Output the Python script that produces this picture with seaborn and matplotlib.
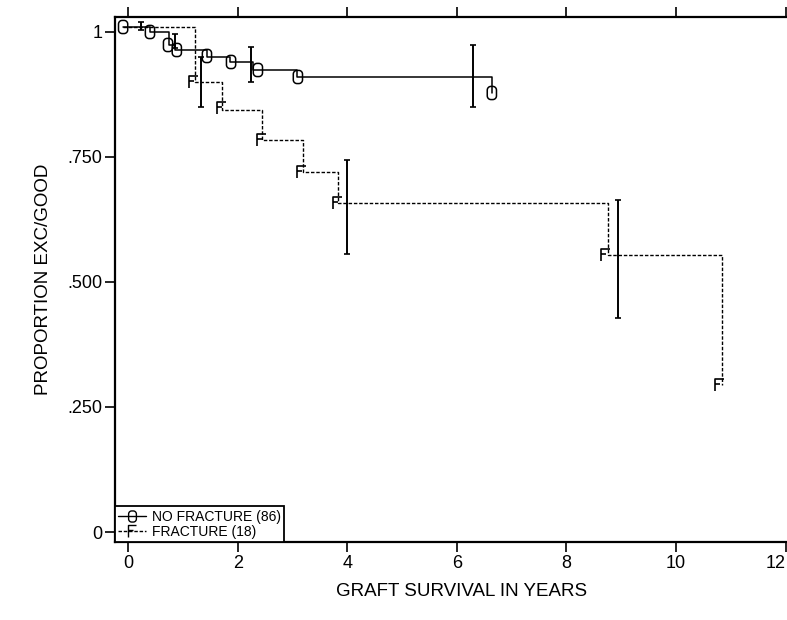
import numpy as np
import pandas as pd
import seaborn as sns
import matplotlib
matplotlib.use("Agg")
import matplotlib.pyplot as plt
from matplotlib.path import Path
from matplotlib.lines import Line2D

# 생존 곡선 데이터
nofx_t = [-0.09, 0.40, 0.75, 0.86, 1.44, 1.86, 2.28, 3.08, 6.64]
nofx_s = [1.01, 1.00, 0.974, 0.964, 0.950, 0.940, 0.924, 0.910, 0.878]
nofx_mark_t = [-0.09, 0.40, 0.73, 0.89, 1.44, 1.88, 2.37, 3.10, 6.64]
nofx_mark_s = [1.01, 1.00, 0.974, 0.964, 0.952, 0.940, 0.924, 0.910, 0.878]
nofx_err_t = [0.24, 0.86, 2.24, 6.30]
nofx_err_lo = [1.004, 0.968, 0.900, 0.850]
nofx_err_hi = [1.020, 0.996, 0.970, 0.974]

fx_t = [-0.09, 1.22, 1.72, 2.45, 3.19, 3.83, 8.76, 10.84]
fx_s = [1.01, 0.900, 0.844, 0.784, 0.720, 0.658, 0.554, 0.294]
fx_mark_t = [1.20, 1.70, 2.43, 3.16, 3.82, 8.72, 10.80]
fx_mark_s = [0.900, 0.848, 0.784, 0.720, 0.658, 0.554, 0.294]
fx_err_t = [1.33, 4.00, 8.94]
fx_err_lo = [0.850, 0.556, 0.428]
fx_err_hi = [0.950, 0.744, 0.664]

x_ticks = [0, 2, 4, 6, 8, 10, 12]
y_ticks = [0, 0.25, 0.5, 0.75, 1.0]
y_ticklabels = ["0", ".250", ".500", ".750", "1"]
legend_labels = ["NO FRACTURE (86)", "FRACTURE (18)"]


def rounded_box(w=0.7, h=1.0, r=0.28):
    # 둥근 사각형 마커 모양
    pts = []
    corners = [(w / 2 - r, h / 2 - r, 0), (-w / 2 + r, h / 2 - r, 90),
               (-w / 2 + r, -h / 2 + r, 180), (w / 2 - r, -h / 2 + r, 270)]
    for cx, cy, a0 in corners:
        ang = np.radians(np.linspace(a0, a0 + 90, 8))
        pts += list(zip(cx + r * np.cos(ang), cy + r * np.sin(ang)))
    pts.append(pts[0])
    codes = [Path.MOVETO] + [Path.LINETO] * (len(pts) - 2) + [Path.CLOSEPOLY]
    return Path(pts, codes)


o_marker = rounded_box()
f_marker = Path([(-0.35, -0.5), (-0.35, 0.5), (0.35, 0.5), (-0.35, 0.05), (0.05, 0.05)],
                [Path.MOVETO, Path.LINETO, Path.LINETO, Path.MOVETO, Path.LINETO])

sns.set_style("ticks")
plt.rcParams['font.family'] = ['Liberation Sans', 'DejaVu Sans']
plt.rcParams['text.color'] = 'black'
plt.rcParams['axes.labelcolor'] = 'black'

fig = plt.figure(figsize=(7.87, 6.2), dpi=100)
ax = fig.add_axes([0.146, 0.1258, 0.880, 0.8468])

df_nofx = pd.DataFrame({"t": nofx_t, "s": nofx_s})
df_fx = pd.DataFrame({"t": fx_t, "s": fx_s})
dash = (0, (2.5, 1.3))

sns.lineplot(data=df_nofx, x="t", y="s", estimator=None, sort=False, ax=ax,
             drawstyle="steps-post", color="black", lw=1.1)
sns.lineplot(data=df_fx, x="t", y="s", estimator=None, sort=False, ax=ax,
             drawstyle="steps-post", color="black", lw=1.0, linestyle=dash)

sns.scatterplot(x=nofx_mark_t, y=nofx_mark_s, marker=o_marker, s=90, ax=ax,
                facecolor="none", edgecolor="black", linewidth=1.1, zorder=4)
sns.scatterplot(x=fx_mark_t, y=fx_mark_s, marker=f_marker, s=85, ax=ax,
                facecolor="none", edgecolor="black", linewidth=1.2, zorder=4)

# 신뢰구간 막대
for et, lo, hi in [(nofx_err_t, nofx_err_lo, nofx_err_hi), (fx_err_t, fx_err_lo, fx_err_hi)]:
    lo = np.array(lo)
    hi = np.array(hi)
    ax.errorbar(et, (lo + hi) / 2, yerr=(hi - lo) / 2, fmt="none", ecolor="black",
                elinewidth=1.4, capsize=2.5, capthick=1.2)

ax.set_xlim(-0.24, 12.4)
ax.set_ylim(-0.02, 1.03)
ax.set_xticks(x_ticks)
ax.set_yticks(y_ticks)
ax.set_yticklabels(y_ticklabels)
ax.tick_params(axis="both", direction="out", length=7, width=1.2, labelsize=13,
               colors="black", top=True, labeltop=False, pad=2)
# 오른쪽 끝의 12 라벨은 잘리지 않게 오른쪽 정렬
ax.get_xticklabels()[-1].set_horizontalalignment("right")
for sp in ax.spines.values():
    sp.set_linewidth(1.6)
    sp.set_color("black")
    sp.set_visible(True)

ax.set_xlabel("GRAFT SURVIVAL IN YEARS", fontsize=13.5, labelpad=8)
ax.set_ylabel("PROPORTION EXC/GOOD", fontsize=13.5, labelpad=11)

handles = [
    Line2D([], [], color="black", lw=1.0, marker=o_marker, markersize=8,
           markerfacecolor="none", markeredgecolor="black"),
    Line2D([], [], color="black", lw=1.0, linestyle=dash, marker=f_marker, markersize=8,
           markerfacecolor="none", markeredgecolor="black"),
]
leg = ax.legend(handles, legend_labels, loc="lower left", bbox_to_anchor=(0, 0),
                borderaxespad=0, fancybox=False, edgecolor="black", framealpha=1,
                handlelength=2.0, handletextpad=0.4, labelspacing=0.05, borderpad=0.25,
                prop={"family": "Liberation Sans", "size": 10})
leg.get_frame().set_linewidth(1.3)

fig.savefig("out.png", dpi=100)
